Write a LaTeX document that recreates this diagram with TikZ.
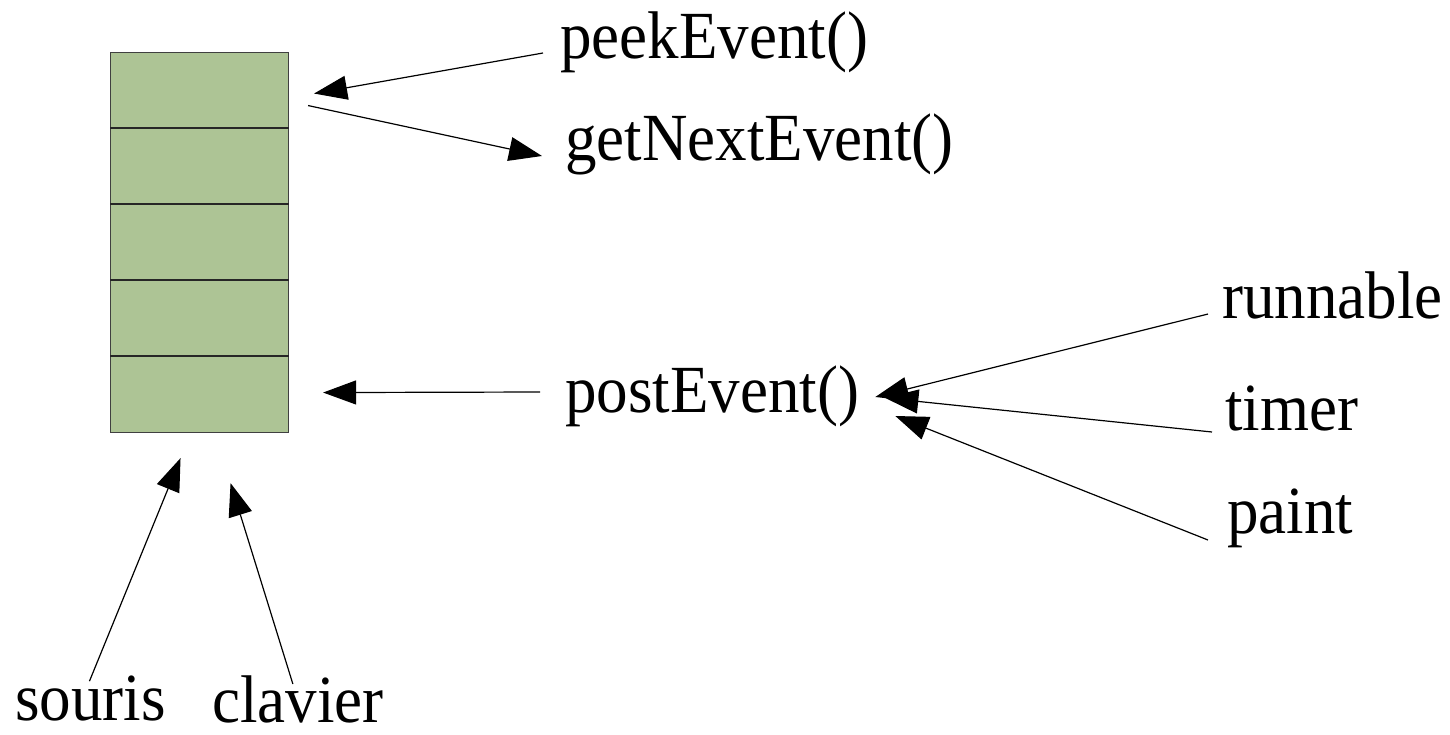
\documentclass[tikz,border=0pt]{standalone}
\usepackage{fontspec}
\usepackage{graphicx}
\setmainfont{Liberation Serif}
\usetikzlibrary{arrows.meta,calc}

\definecolor{cellgreen}{HTML}{ADC495}

\newcommand{\tallword}[1]{\scalebox{1}[1.07]{#1}}

\tikzset{
  cell/.style={draw=black!75, line width=1.1pt, fill=cellgreen,
               minimum width=178pt, minimum height=76pt, inner sep=0pt,
               anchor=north west},
  divider/.style={draw=black!85, line width=2pt},
  lbl/.style={font=\fontsize{63}{70}\selectfont, inner sep=0pt, anchor=base west},
  flow/.style={line width=1.2pt, -{Triangle[length=33pt,width=24pt]}}
}

\begin{document}
\begin{tikzpicture}[x=1pt,y=-1pt]
  \useasboundingbox (0,0) rectangle (1450,734);

  % event queue: five stacked slots
  \node[cell] (c1) at (110,52)  {};
  \node[cell] (c2) at (110,128) {};
  \node[cell] (c3) at (110,204) {};
  \node[cell] (c4) at (110,280) {};
  \node[cell] (c5) at (110,356) {};
  \draw[divider] (c2.north west) -- (c2.north east);
  \draw[divider] (c3.north west) -- (c3.north east);
  \draw[divider] (c4.north west) -- (c4.north east);
  \draw[divider] (c5.north west) -- (c5.north east);

  % labels
  \node[lbl] (peek)     at (560,58)   {\tallword{peekEvent()}};
  \node[lbl] (getnext)  at (565,160)  {\tallword{getNextEvent()}};
  \node[lbl] (post)     at (565,412)  {\tallword{postEvent()}};
  \node[lbl] (runnable) at (1222,318) {\tallword{runnable}};
  \node[lbl] (timer)    at (1225,430) {\tallword{timer}};
  \node[lbl] (paint)    at (1227,533) {\tallword{paint}};
  \node[lbl] (souris)   at (15,720)   {\tallword{souris}};
  \node[lbl] (clavier)  at (212,722)  {\tallword{clavier}};

  % queue access
  \draw[flow] ($(peek.base west)+(-17,-5)$) -- ($(c1.east)+(25,3)$);
  \draw[flow] ($(c1.east)+(19,15)$) -- ($(getnext.base west)+(-23,-4)$);
  \draw[flow] ($(post.base west)+(-25,-20)$) -- ($(c5.east)+(34,-2)$);

  % sources feeding postEvent()
  \draw[flow] ($(runnable.base west)+(-14,-4)$) -- ($(post.base east)+(16,-15)$);
  \draw[flow] ($(timer.base west)+(-13,2)$) -- ($(post.base east)+(26,-14)$);
  \draw[flow] ($(paint.base west)+(-19,7)$) -- ($(post.base east)+(36,4)$);

  % input devices
  \draw[flow] ($(souris.north)+(-1,6)$) -- ($(c5.south)+(-19,25)$);
  \draw[flow] ($(clavier.north)+(-5,9)$) -- ($(c5.south)+(31,50)$);
\end{tikzpicture}
\end{document}
